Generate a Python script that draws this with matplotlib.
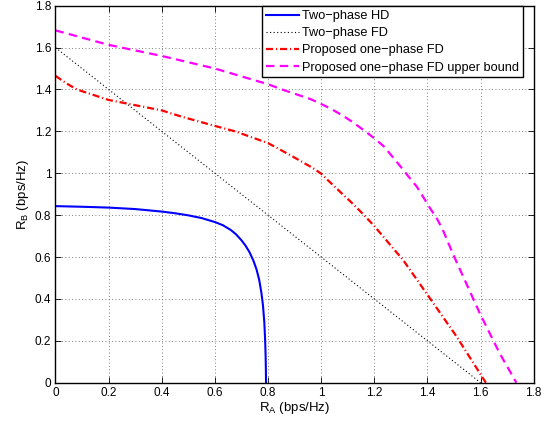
import matplotlib
matplotlib.use("Agg")
import matplotlib.pyplot as plt

plt.rcParams['font.family'] = ['Liberation Sans', 'DejaVu Sans']

# Two-phase half-duplex rate region boundary
hd_ra = [0.0, 0.1, 0.2, 0.3, 0.4, 0.45, 0.5, 0.55, 0.6, 0.63, 0.66, 0.68, 0.70,
         0.715, 0.73, 0.745, 0.757, 0.767, 0.775, 0.781, 0.786, 0.789, 0.791,
         0.792, 0.7925]
hd_rb = [0.843, 0.840, 0.836, 0.829, 0.817, 0.809, 0.799, 0.786, 0.767, 0.752,
         0.729, 0.708, 0.680, 0.655, 0.624, 0.583, 0.540, 0.490, 0.430, 0.370,
         0.290, 0.210, 0.130, 0.060, 0.0]

# Two-phase full-duplex boundary
fd2_ra = [0.0, 1.6]
fd2_rb = [1.6, 0.0]

# Proposed one-phase full-duplex boundary
fd1_ra = [0.0, 0.04, 0.08, 0.2, 0.3, 0.4, 0.475, 0.6, 0.676, 0.8, 0.883, 0.97,
          1.0, 1.031, 1.075, 1.117, 1.157, 1.2, 1.309, 1.409, 1.51, 1.6, 1.62]
fd1_rb = [1.465, 1.43, 1.40, 1.35, 1.325, 1.30, 1.27, 1.226, 1.20, 1.144, 1.087,
          1.024, 0.998, 0.96, 0.907, 0.857, 0.806, 0.748, 0.585, 0.404, 0.22,
          0.04, 0.0]

# Upper bound for the proposed one-phase full-duplex scheme
ub_ra = [0.0, 0.2, 0.4, 0.6, 0.8, 0.857, 0.958, 1.0, 1.039, 1.083, 1.121, 1.163,
         1.2, 1.237, 1.297, 1.329, 1.36, 1.385, 1.41, 1.435, 1.457, 1.497, 1.597,
         1.672, 1.735]
ub_rb = [1.682, 1.613, 1.56, 1.50, 1.425, 1.398, 1.355, 1.331, 1.306, 1.274,
         1.242, 1.203, 1.167, 1.127, 1.035, 0.984, 0.936, 0.885, 0.833, 0.785,
         0.733, 0.612, 0.332, 0.14, 0.0]

legend_labels = ['Two\u2212phase HD', 'Two\u2212phase FD',
                 'Proposed one\u2212phase FD', 'Proposed one\u2212phase FD upper bound']

fig = plt.figure(figsize=(5.52, 4.24), dpi=100)
ax = fig.add_axes([0.1005, 0.0974, 0.8663, 0.8892])

ax.plot(hd_ra, hd_rb, color='#0000ff', lw=1.5, ls='-', label=legend_labels[0])
ax.plot(fd2_ra, fd2_rb, color='black', lw=0.8, ls=(0, (1, 2.2)), label=legend_labels[1])
ax.plot(fd1_ra, fd1_rb, color='#ff0000', lw=1.6, ls=(0, (3.2, 1.3, 0.5, 1.3)),
        label=legend_labels[2])
ax.plot(ub_ra, ub_rb, color='#ff00ff', lw=1.6, ls=(0, (3.8, 2.4)), label=legend_labels[3])

ax.set_xlim(0, 1.8)
ax.set_ylim(0, 1.8)
ticks = [0, 0.2, 0.4, 0.6, 0.8, 1, 1.2, 1.4, 1.6, 1.8]
tick_labels = ['0', '0.2', '0.4', '0.6', '0.8', '1', '1.2', '1.4', '1.6', '1.8']
ax.set_xticks(ticks)
ax.set_xticklabels(tick_labels)
ax.set_yticks(ticks)
ax.set_yticklabels(tick_labels)

ax.grid(True, color='#555555', ls=(0, (1, 3)), lw=0.6)
ax.tick_params(direction='in', top=True, right=True, labelsize=8.5, length=4,
               width=0.6, pad=3)
for s in ax.spines.values():
    s.set_linewidth(1.0)

ax.set_xlabel('R$\\mathregular{_A}$ (bps/Hz)', fontsize=9.5, labelpad=1)
ax.set_ylabel('R$\\mathregular{_B}$ (bps/Hz)', fontsize=9.5, labelpad=3)

leg = ax.legend(loc='upper right', bbox_to_anchor=(0.9776, 0.998), fontsize=9.2,
                frameon=True, fancybox=False, edgecolor='black', framealpha=1,
                borderpad=0.3, labelspacing=0.4, handlelength=2.6,
                handletextpad=0.25, borderaxespad=0.0)
leg.get_frame().set_linewidth(1.0)

fig.savefig('out.png', dpi=100)
